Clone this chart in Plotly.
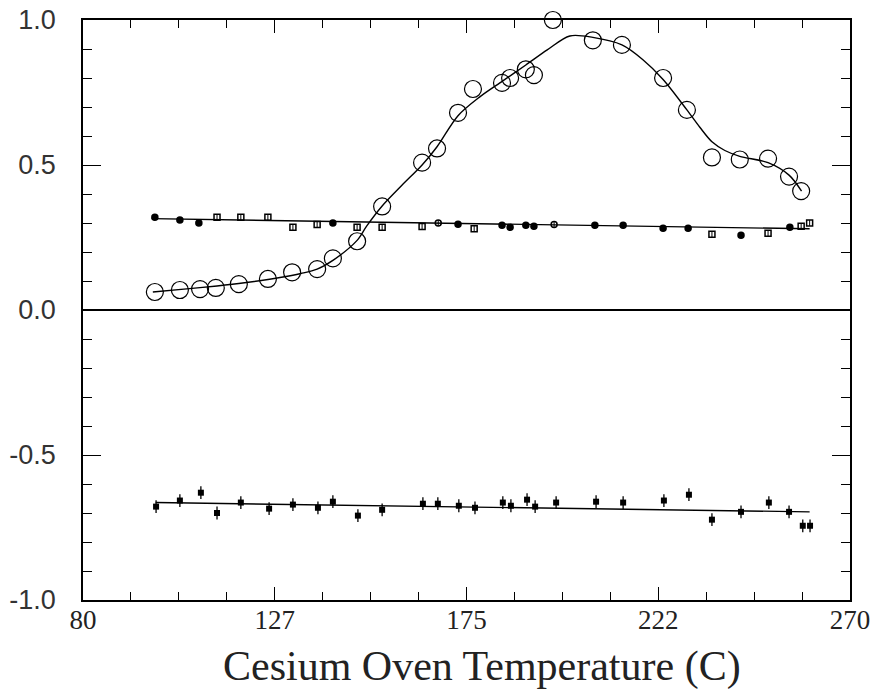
import plotly.graph_objects as go

# ---------------- data ----------------
circ_T = [97.8, 104.0, 109.0, 112.9, 118.6, 125.8, 131.8, 138.0, 141.9, 147.9,
          154.1, 164.0, 167.7, 172.9, 176.6, 183.8, 185.8, 189.7, 191.7, 196.4,
          206.3, 213.5, 223.7, 229.6, 235.8, 242.7, 249.7, 254.9, 257.9]
circ_v = [0.062, 0.069, 0.072, 0.076, 0.089, 0.107, 0.130, 0.141, 0.178, 0.237,
          0.357, 0.508, 0.557, 0.680, 0.762, 0.783, 0.800, 0.830, 0.810, 1.000,
          0.930, 0.914, 0.800, 0.690, 0.526, 0.519, 0.522, 0.460, 0.410]

fit1_T = [97.3, 105, 113.2, 120, 128.8, 134, 138, 142, 147.9, 150.3, 154, 159,
          164, 167.7, 172.9, 178.3, 184, 189.7, 195, 200.6, 206.3, 213.5, 218.7,
          223.7, 229.6, 232.8, 235.8, 239.0, 242.7, 249.7, 254.9, 258.0]
fit1_v = [0.062, 0.072, 0.083, 0.094, 0.112, 0.126, 0.141, 0.172, 0.240, 0.290,
          0.357, 0.430, 0.500, 0.563, 0.670, 0.735, 0.790, 0.845, 0.897, 0.945,
          0.940, 0.914, 0.863, 0.795, 0.690, 0.630, 0.580, 0.550, 0.530, 0.508, 0.465, 0.410]

mid_T = [97.8, 104.0, 108.7, 113.2, 119.1, 125.8, 132.0, 138.0, 141.9, 147.9,
         154.1, 164.0, 168.0, 172.9, 176.9, 183.8, 185.8, 189.7, 191.7, 196.7,
         206.8, 213.8, 223.7, 229.9, 235.8, 243.0, 249.7, 255.1, 257.9, 260.0]
mid_v = [0.320, 0.310, 0.300, 0.320, 0.320, 0.320, 0.285, 0.295, 0.300, 0.285,
         0.285, 0.288, 0.300, 0.296, 0.280, 0.292, 0.285, 0.292, 0.289, 0.295,
         0.292, 0.292, 0.282, 0.282, 0.261, 0.258, 0.265, 0.285, 0.289, 0.300]
mid_err = 0.01
fit2_T = [97.0, 260.0]
fit2_v = [0.315, 0.280]

low_T = [98.1, 104.0, 109.2, 113.2, 119.1, 126.1, 132.0, 138.2, 141.9, 148.1,
         154.1, 164.2, 167.9, 173.1, 177.1, 184.0, 186.0, 190.0, 192.0, 197.2,
         207.1, 213.8, 223.9, 230.1, 235.8, 243.0, 249.9, 254.9, 258.3, 260.1]
low_v = [-0.678, -0.657, -0.630, -0.700, -0.664, -0.685, -0.671, -0.682, -0.661, -0.709,
         -0.689, -0.668, -0.668, -0.675, -0.682, -0.664, -0.675, -0.654, -0.678, -0.664,
         -0.661, -0.664, -0.657, -0.637, -0.723, -0.696, -0.664, -0.696, -0.744, -0.744]
low_err = 0.022
fit3_T = [98.0, 260.0]
fit3_v = [-0.664, -0.696]

x_ticks = [80, 127.5, 175, 222.5, 270]
x_labels = ["80", "127", "175", "222", "270"]
y_ticks = [-1.0, -0.5, 0.0, 0.5, 1.0]
y_labels = ["-1.0", "-0.5", "0.0", "0.5", "1.0"]
x_title = "Cesium Oven Temperature (C)"

# ---------------- styles ----------------
mid_symbols = ["circle", "circle", "circle", "square-open", "square-open", "square-open",
               "square-open", "square-open", "circle", "square-open", "square-open",
               "square-open", "circle-open", "circle", "square-open", "circle", "circle",
               "circle", "circle", "circle-open", "circle", "circle", "circle", "circle",
               "square-open", "circle", "square-open", "circle", "square-open", "square-open"]

SERIF = "Liberation Serif, Times New Roman, serif"
SANS = "Liberation Sans, Arial, sans-serif"
fig = go.Figure()

fig.add_trace(go.Scatter(x=fit1_T, y=fit1_v, mode="lines", line=dict(color="black", width=1.4, shape="spline", smoothing=0.9), hoverinfo="skip"))
fig.add_trace(go.Scatter(x=circ_T, y=circ_v, mode="markers", cliponaxis=False,
                         marker=dict(symbol="circle-open", size=17, color="black", line=dict(width=1.2, color="black"))))

fig.add_trace(go.Scatter(x=fit2_T, y=fit2_v, mode="lines", line=dict(color="black", width=1.4)))
fig.add_trace(go.Scatter(x=mid_T, y=mid_v, mode="markers",
                         error_y=dict(type="constant", value=mid_err, color="black", thickness=1, width=0),
                         marker=dict(symbol=mid_symbols, size=6, color="black", line=dict(width=1.5, color="black"))))

fig.add_trace(go.Scatter(x=fit3_T, y=fit3_v, mode="lines", line=dict(color="black", width=1.4)))
fig.add_trace(go.Scatter(x=low_T, y=low_v, mode="markers",
                         error_y=dict(type="constant", value=low_err, color="black", thickness=1.3, width=0),
                         marker=dict(symbol="square", size=6, color="black")))

fig.update_layout(
    width=885, height=692,
    margin=dict(l=83, r=35, t=20, b=92),
    paper_bgcolor="white", plot_bgcolor="white",
    showlegend=False,
    font=dict(family=SERIF, size=25, color="#222"),
)
fig.update_xaxes(range=[80, 270], tickvals=x_ticks, ticktext=x_labels, automargin=False,
                 ticks="inside", ticklen=13, tickwidth=1.3, tickcolor="black",
                 minor=dict(dtick=11.875, tick0=80, ticks="inside", ticklen=8, tickwidth=1.1, tickcolor="black"),
                 showline=True, linecolor="black", linewidth=1.6, mirror="allticks",
                 showgrid=False, zeroline=False, ticklabelstandoff=-5,
                 tickfont=dict(family=SERIF, size=27, color="#222"))
fig.update_yaxes(range=[-1.0, 1.0], tickvals=y_ticks, ticktext=y_labels, automargin=False,
                 ticks="inside", ticklen=18, tickwidth=1.3, tickcolor="black",
                 minor=dict(dtick=0.1, tick0=0, ticks="inside", ticklen=9, tickwidth=1.1, tickcolor="black"),
                 showline=True, linecolor="black", linewidth=1.6, mirror="allticks",
                 showgrid=False, zeroline=True, zerolinecolor="black", zerolinewidth=1.6,
                 ticklabelstandoff=20,
                 tickfont=dict(family=SANS, size=27, color="#333"))

fig.add_annotation(text=x_title, xref="paper", yref="paper", x=0.52, y=-0.115,
                   xanchor="center", yanchor="middle", showarrow=False,
                   font=dict(family=SERIF, size=42, color="#222"))

fig.write_html("out.html")
